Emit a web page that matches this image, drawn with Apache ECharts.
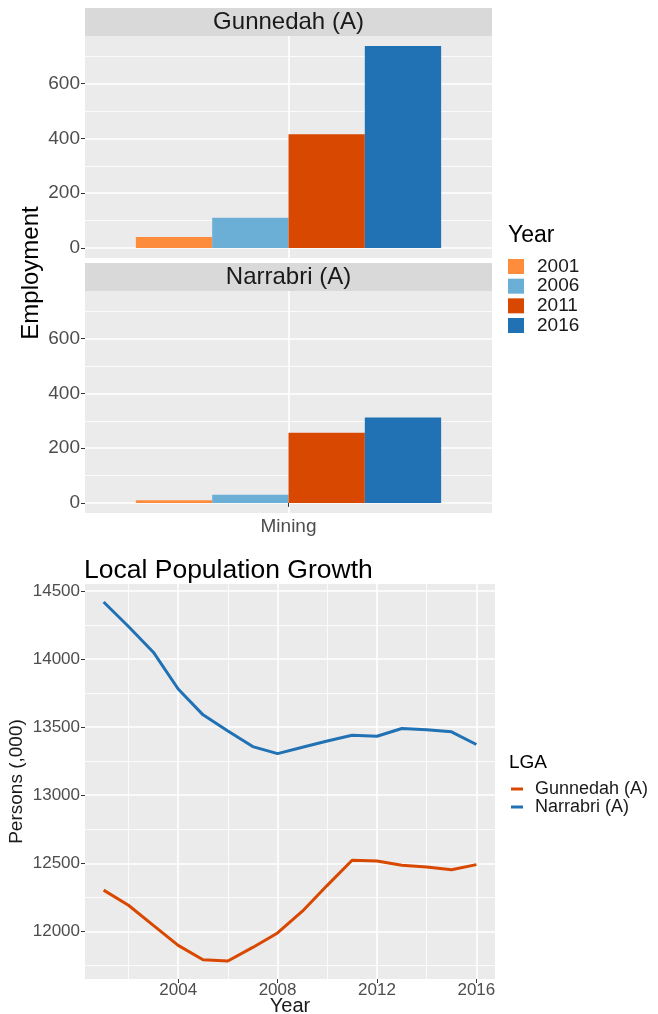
<!DOCTYPE html>
<html>
<head>
<meta charset="utf-8">
<script src="https://cdn.jsdelivr.net/npm/echarts@6/dist/echarts.min.js"></script>
<style>
  html, body { margin: 0; padding: 0; background: #fff; }
  #main { width: 658px; height: 1014px; }
</style>
</head>
<body>
<div id="main"></div>
<script>
// employment by census year, mining
var industries = ['Mining'];
var censusYears = ['2001', '2006', '2011', '2016'];
var gunnedahJobs = [40, 110, 415, 737];
var narrabriJobs = [10, 30, 256, 312];
var jobTicks = [0, 200, 400, 600];
var jobMinorTicks = [100, 300, 500, 700];

// population by year
var popYears = [2001, 2002, 2003, 2004, 2005, 2006, 2007, 2008, 2009, 2010, 2011, 2012, 2013, 2014, 2015, 2016];
var gunnedahPop = [12303, 12192, 12044, 11897, 11791, 11782, 11882, 11988, 12148, 12338, 12522, 12517, 12485, 12473, 12453, 12490];
var narrabriPop = [14419, 14239, 14050, 13780, 13590, 13472, 13357, 13305, 13352, 13398, 13440, 13433, 13490, 13480, 13465, 13372];
var popTicks = [12000, 12500, 13000, 13500, 14000, 14500];
var popMinorTicks = [11750, 12250, 12750, 13250, 13750, 14250];
var yearTicks = [2004, 2008, 2012, 2016];
var yearMinorTicks = [2002, 2006, 2010, 2014];

var yearColors = ['#FD8D3C', '#6BAED6', '#D94801', '#2171B5'];
var lgaColors = ['#D94801', '#2171B5'];
var font = 'Liberation Sans, Arial, sans-serif';

// ggplot style 5% padding
function expand(lo, hi) {
    var p = (hi - lo) * 0.05;
    return [lo - p, hi + p];
}

var myChart = echarts.init(document.getElementById('main'));

var jobRange = expand(0, Math.max.apply(null, gunnedahJobs.concat(narrabriJobs)));
var popRange = expand(Math.min.apply(null, gunnedahPop.concat(narrabriPop)),
                      Math.max.apply(null, gunnedahPop.concat(narrabriPop)));
var yearRange = expand(popYears[0], popYears[popYears.length - 1]);

function plain(v) { return String(v); }

function majorAxis(grid, range, ticks, size, margin) {
    return {
        type: 'value', gridIndex: grid, min: range[0], max: range[1],
        axisLine: { show: false },
        axisTick: { show: true, length: 4, customValues: ticks, lineStyle: { color: '#333333', width: 1 } },
        axisLabel: { customValues: ticks, formatter: plain, color: '#4D4D4D',
                     fontFamily: font, fontSize: size, margin: margin },
        splitLine: { show: true, lineStyle: { color: '#FFFFFF', width: 1.6 } }
    };
}
function minorAxis(grid, range, ticks) {
    return {
        type: 'value', gridIndex: grid, min: range[0], max: range[1],
        axisLine: { show: false },
        axisTick: { show: false, customValues: ticks },
        axisLabel: { show: false },
        splitLine: { show: true, lineStyle: { color: '#FFFFFF', width: 0.8 } }
    };
}

var xAxes = [], yAxes = [], series = [];
[gunnedahJobs, narrabriJobs].forEach(function (vals, i) {
    xAxes.push({
        type: 'category', gridIndex: i, data: industries,
        axisLine: { show: false },
        axisTick: { show: i === 1, alignWithLabel: true, length: 4, lineStyle: { color: '#333333' } },
        axisLabel: { show: i === 1, color: '#4D4D4D', fontFamily: font, fontSize: 19, margin: 4 },
        splitLine: { show: false }
    });
    // centre grid line of the discrete axis
    xAxes.push({
        type: 'value', gridIndex: i, min: 0, max: 2,
        axisLine: { show: false },
        axisTick: { show: false, customValues: [1] },
        axisLabel: { show: false },
        splitLine: { show: true, lineStyle: { color: '#FFFFFF', width: 1.6 } }
    });
    yAxes.push(majorAxis(i, jobRange, jobTicks, 19, 5));
    yAxes.push(minorAxis(i, jobRange, jobMinorTicks));
    censusYears.forEach(function (yr, k) {
        series.push({
            name: yr, type: 'bar', xAxisIndex: 2 * i, yAxisIndex: 2 * i,
            barGap: '0%', barCategoryGap: '25%',
            itemStyle: { color: yearColors[k] },
            data: [vals[k]]
        });
    });
});

xAxes.push(majorAxis(2, yearRange, yearTicks, 17, 3));
xAxes.push(minorAxis(2, yearRange, yearMinorTicks));
yAxes.push(majorAxis(2, popRange, popTicks, 17, 5));
yAxes.push(minorAxis(2, popRange, popMinorTicks));
xAxes[4].name = 'Year';
xAxes[4].nameLocation = 'middle';
xAxes[4].nameGap = 17;
xAxes[4].nameMoveOverlap = false;
xAxes[4].nameTextStyle = { color: '#1A1A1A', fontFamily: font, fontSize: 20 };
yAxes[4].name = 'Persons (,000)';
yAxes[4].nameLocation = 'middle';
yAxes[4].nameGap = 59;
yAxes[4].nameMoveOverlap = false;
yAxes[4].nameTextStyle = { color: '#1A1A1A', fontFamily: font, fontSize: 19 };

[['Gunnedah (A)', gunnedahPop], ['Narrabri (A)', narrabriPop]].forEach(function (s, k) {
    series.push({
        name: s[0], type: 'line', xAxisIndex: 4, yAxisIndex: 4,
        showSymbol: false, symbol: 'none',
        lineStyle: { color: lgaColors[k], width: 3 },
        itemStyle: { color: lgaColors[k] },
        data: popYears.map(function (y, j) { return [y, s[1][j]]; })
    });
});

var panelGrid = { show: true, backgroundColor: '#EBEBEB', borderWidth: 0,
                  containLabel: false, outerBoundsMode: 'none' };

var option = {
    backgroundColor: '#FFFFFF',
    animation: false,
    grid: [
        Object.assign({ left: 85, top: 36, width: 407, height: 222 }, panelGrid),
        Object.assign({ left: 85, top: 291, width: 407, height: 222 }, panelGrid),
        Object.assign({ left: 85, top: 584, width: 410, height: 395 }, panelGrid)
    ],
    xAxis: xAxes,
    yAxis: yAxes,
    title: [
        { text: 'Local Population Growth', left: 84, top: 557, padding: 0,
          textStyle: { color: '#000000', fontFamily: font, fontSize: 26.5, fontWeight: 'normal', lineHeight: 27 } },
        { text: 'Year', left: 508, top: 224, padding: 0,
          textStyle: { color: '#000000', fontFamily: font, fontSize: 23, fontWeight: 'normal', lineHeight: 23 } },
        { text: 'LGA', left: 509, top: 753, padding: 0,
          textStyle: { color: '#000000', fontFamily: font, fontSize: 19, fontWeight: 'normal', lineHeight: 19 } }
    ],
    legend: [
        { data: censusYears, orient: 'vertical', left: 508, top: 257, padding: 0,
          icon: 'rect', itemWidth: 16, itemHeight: 15, itemGap: 0.67,
          textStyle: { color: '#1A1A1A', fontFamily: font, fontSize: 19, lineHeight: 16, padding: [0, 0, 0, 8] } },
        { data: ['Gunnedah (A)', 'Narrabri (A)'], orient: 'vertical', left: 511, top: 780, padding: 0,
          icon: 'rect', itemWidth: 12, itemHeight: 3, itemGap: 0,
          textStyle: { color: '#1A1A1A', fontFamily: font, fontSize: 18, lineHeight: 14, padding: [0, 0, 0, 7] } }
    ],
    graphic: [
        { type: 'rect', left: 85, top: 8, shape: { width: 407, height: 28 }, style: { fill: '#D9D9D9' }, silent: true },
        { type: 'text', x: 288.5, y: 22, style: { text: 'Gunnedah (A)', fill: '#1A1A1A', font: '24px ' + font,
          textAlign: 'center', textVerticalAlign: 'middle' }, silent: true },
        { type: 'rect', left: 85, top: 263, shape: { width: 407, height: 28 }, style: { fill: '#D9D9D9' }, silent: true },
        { type: 'text', x: 288.5, y: 277, style: { text: 'Narrabri (A)', fill: '#1A1A1A', font: '24px ' + font,
          textAlign: 'center', textVerticalAlign: 'middle' }, silent: true },
        { type: 'text', x: 31, y: 273, rotation: Math.PI / 2, style: { text: 'Employment', fill: '#000000',
          font: '24px ' + font, textAlign: 'center', textVerticalAlign: 'middle' }, silent: true }
    ],
    series: series
};

myChart.setOption(option);
</script>
</body>
</html>
